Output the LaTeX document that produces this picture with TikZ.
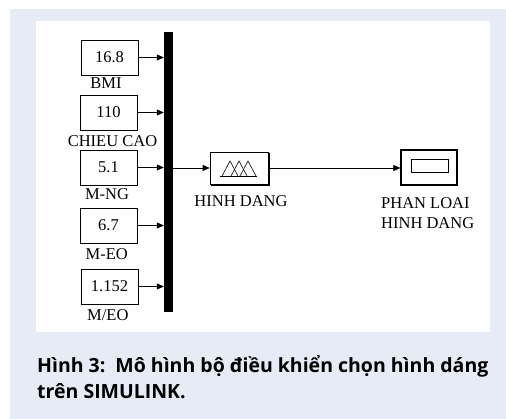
\documentclass[tikz,border=0pt]{standalone}
\usepackage{fontspec}
\setmainfont{Liberation Serif}
\newfontfamily\captionfont{Open Sans}
\usetikzlibrary{positioning, arrows.meta, calc}
\definecolor{panelbg}{HTML}{E7EBF6}

\begin{document}
\begin{tikzpicture}[
    x=1pt, y=-1pt,
    blk/.style={rectangle, draw, line width=0.6pt, minimum width=57pt, minimum height=35pt, inner sep=0pt, font=\fontsize{16.5}{18}\selectfont},
    lbl/.style={anchor=base, inner sep=0pt, font=\fontsize{16.5}{18}\selectfont},
    sig/.style={-{Triangle[length=7pt, width=6pt]}, line width=0.6pt},
]

\useasboundingbox (0,0) rectangle (506,419);
\fill[panelbg] (10,9) rectangle (506,419);
\fill[white] (36,21) rectangle (490,332);

% constant inputs
\node[blk] (bmi) at (109.5,57.5) {16.8};
\node[blk] (cao) at (108.5,112.5) {110};
\node[blk] (mng) at (108.5,167.5) {5.1};
\node[blk] (meo) at (108.5,225.5) {6.7};
\node[blk] (mdeo) at (109.5,286.5) {1.152};

\node[lbl] at (106,88.3) {BMI};
\node[lbl] at (112.5,147) {CHIEU CAO};
\node[lbl] at (107,199.3) {M-NG};
\node[lbl] at (106.7,260) {M-EO};
\node[lbl] at (107.8,320.7) {M/EO};

% mux bar
\node[fill=black, minimum width=9pt, minimum height=280pt, inner sep=0pt] (mux) at (168.5,172) {};

\foreach \src in {bmi, cao, mng, meo, mdeo}
    \draw[sig] (\src.east) -- (\src.east -| mux.west);

% fuzzy controller
\node[blk, minimum width=58pt, minimum height=32pt] (fis) at (239,168) {};
\draw[line width=1.2pt] ($(fis.north east)+(1,1)$) |- ($(fis.south west)+(1,1)$);
\draw[line width=0.6pt] (220,176) -- (257,176);
\foreach \px in {230, 239, 248}
    \draw[line width=0.6pt] (\px-8,176) -- (\px,161) -- (\px+8,176);
\node[lbl] at (241,206.7) {HINH DANG};

\draw[sig] (mux.east |- fis.west) -- (fis.west);

% display
\node[blk, line width=1.2pt, minimum width=56pt] (disp) at (429,167.5) {};
\draw[line width=0.6pt] (411,159) rectangle (448,172);
\node[lbl, anchor=base west, align=left, font=\fontsize{16.5}{20}\selectfont] at (381,228.3) {PHAN LOAI\\HINH DANG};

\draw[sig] (fis.east) -- (fis.east -| disp.west);

% caption
\node[anchor=base west, inner sep=0pt, align=left, font=\captionfont\bfseries\fontsize{19.5}{26}\selectfont] (cap) at (37,399) {Hình 3:\, Mô hình bộ điều khiển chọn hình dáng\\trên SIMULINK.};

\end{tikzpicture}
\end{document}
